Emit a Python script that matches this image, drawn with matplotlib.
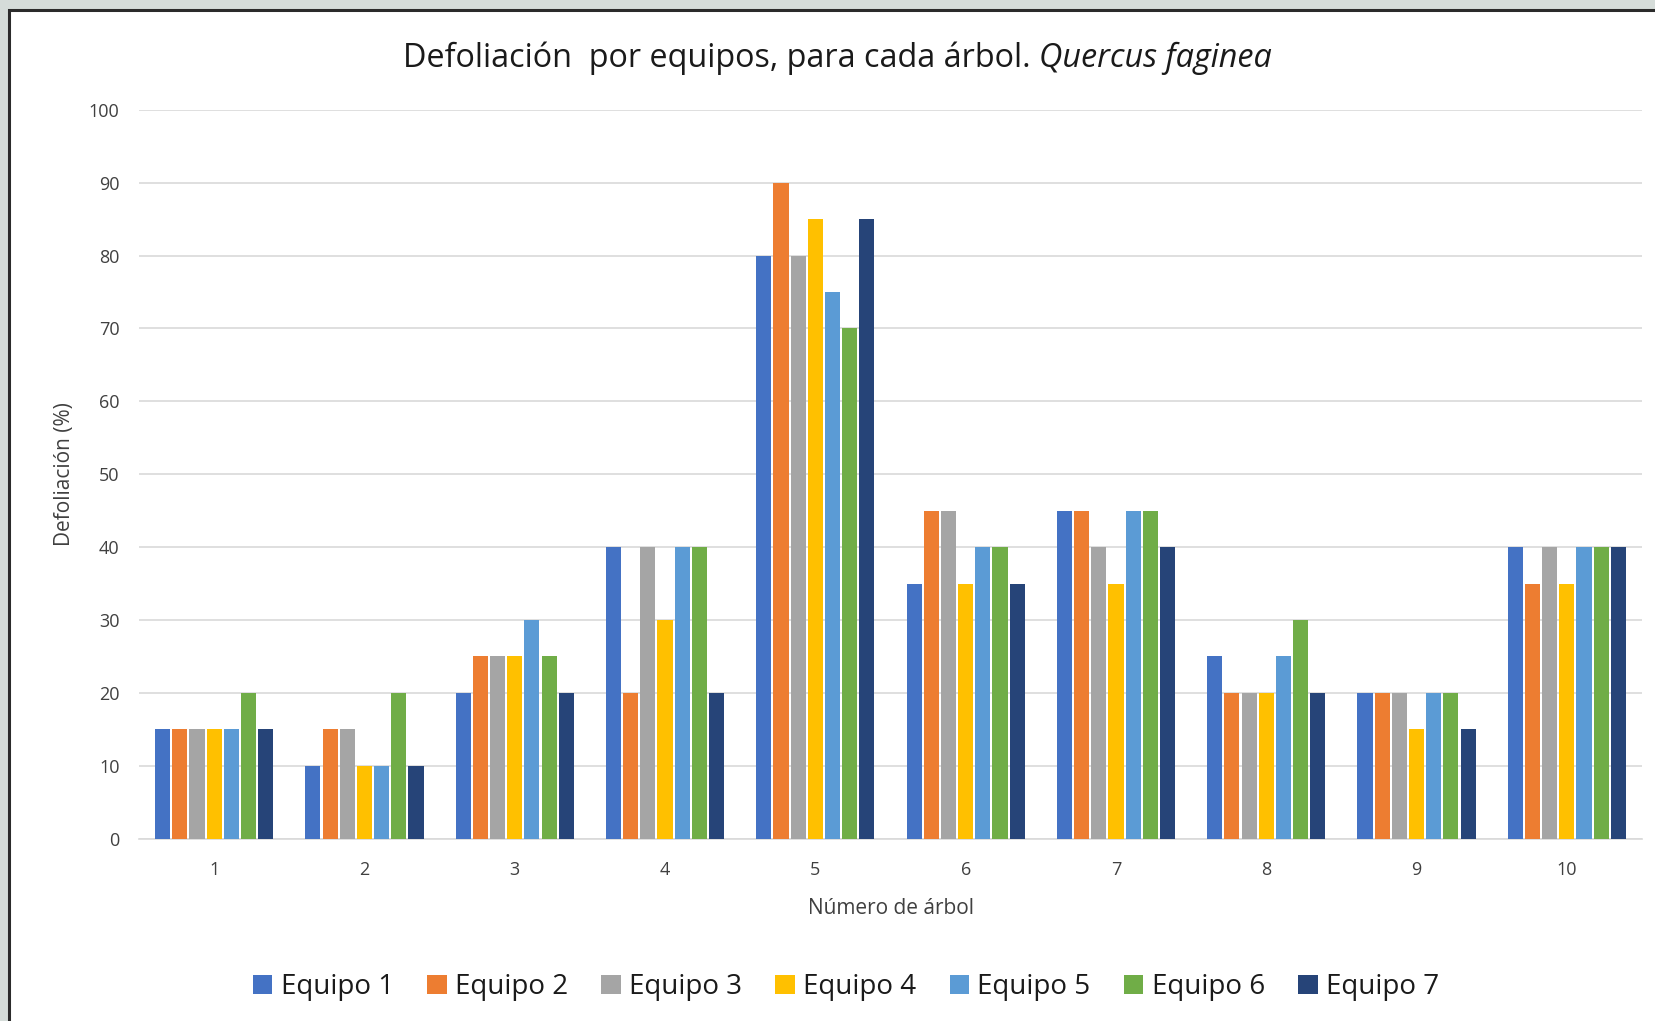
import numpy as np
import matplotlib.pyplot as plt
from matplotlib.patches import Rectangle

# Data
arboles = ["1", "2", "3", "4", "5", "6", "7", "8", "9", "10"]
equipos = ["Equipo 1", "Equipo 2", "Equipo 3", "Equipo 4", "Equipo 5", "Equipo 6", "Equipo 7"]
equipo1 = [15, 10, 20, 40, 80, 35, 45, 25, 20, 40]
equipo2 = [15, 15, 25, 20, 90, 45, 45, 20, 20, 35]
equipo3 = [15, 15, 25, 40, 80, 45, 40, 20, 20, 40]
equipo4 = [15, 10, 25, 30, 85, 35, 35, 20, 15, 35]
equipo5 = [15, 10, 30, 40, 75, 40, 45, 25, 20, 40]
equipo6 = [20, 20, 25, 40, 70, 40, 45, 30, 20, 40]
equipo7 = [15, 10, 20, 20, 85, 35, 40, 20, 15, 40]
valores = [equipo1, equipo2, equipo3, equipo4, equipo5, equipo6, equipo7]

colores = ["#4472C4", "#ED7D31", "#A5A5A5", "#FFC000", "#5B9BD5", "#70AD47", "#264478"]

plt.rcParams['font.family'] = ['Open Sans', 'DejaVu Sans']

fig = plt.figure(figsize=(16.56, 10.21), dpi=100, facecolor="#d5dcd9")
W, H = 1656, 1021

# white chart panel with dark border (cut off at right and bottom)
fig.patches.append(Rectangle((9 / W, -0.05), 1.1, 1 - 10 / H + 0.05, transform=fig.transFigure,
                             facecolor="white", edgecolor="#2b2b2b", linewidth=2.2, zorder=-5))

ax = fig.add_axes([139 / W, 1 - 838.6 / H, (1642 - 139) / W, (838.6 - 109.8) / H])
ax.set_facecolor("none")

x = np.arange(len(arboles))
n = len(equipos)
slot = 0.8 / n
for i, (nombre, vals) in enumerate(zip(equipos, valores)):
    ax.bar(x - 0.4 + slot * (i + 0.5), vals, width=slot * 0.88, color=colores[i],
           label=nombre, zorder=3)

ax.set_xlim(-0.5, len(arboles) - 0.5)
ax.set_ylim(0, 100)
ax.set_yticks(range(0, 101, 10))
ax.set_xticks(x)
ax.set_xticklabels(arboles)
ax.grid(axis="y", color="#d9d9d9", linewidth=1.2, zorder=0)
for s in ["top", "right", "left"]:
    ax.spines[s].set_visible(False)
ax.spines["bottom"].set_color("#d9d9d9")
ax.spines["bottom"].set_linewidth(1.2)
ax.tick_params(axis="both", length=0, labelsize=13, colors="#404040")
ax.tick_params(axis="x", pad=16)
ax.tick_params(axis="y", pad=14)

ax.set_xlabel("Número de árbol", fontsize=15, color="#404040")
ax.set_ylabel("Defoliación (%)", fontsize=15, color="#404040")
ax.xaxis.set_label_coords(0.5, -0.081)
ax.yaxis.set_label_coords(-0.0425, 0.5)

# title: regular part followed by italic species name
t1 = fig.text(403 / W, 1 - 58 / H, "Defoliación  por equipos, para cada árbol. ", ha="left",
              va="center", fontsize=23.3, color="#1a1a1a")
renderer = fig.canvas.get_renderer()
bb = t1.get_window_extent(renderer=renderer)
fig.text(bb.x1 / W, 1 - 58 / H, "Quercus faginea", ha="left", va="center", fontsize=23.3,
         color="#1a1a1a", style="italic")

fig.legend(loc="center", bbox_to_anchor=(846 / W, 1 - 987 / H), ncol=7, frameon=False,
           fontsize=20, handlelength=0.7, handleheight=0.7, handletextpad=0.3,
           columnspacing=1.2, labelcolor="#1a1a1a")

fig.savefig("out.png", dpi=100, facecolor=fig.get_facecolor())
